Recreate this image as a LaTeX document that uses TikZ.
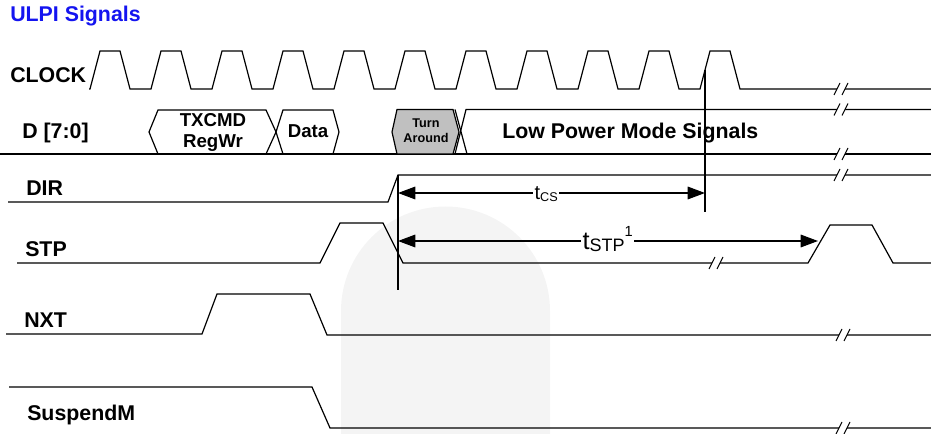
\documentclass[tikz,border=0pt]{standalone}
\usepackage{fontspec}
\setmainfont{Liberation Sans}
\usetikzlibrary{arrows.meta}
\definecolor{wmark}{RGB}{244,244,244}
\definecolor{tagray}{RGB}{192,192,192}
\definecolor{ttlblue}{RGB}{20,20,240}
\begin{document}
\begin{tikzpicture}[x=0.75pt,y=-0.75pt,
  wave/.style={line width=0.9pt, line join=miter},
  lbl/.style={font=\fontsize{16}{16}\selectfont\bfseries, inner sep=0pt, anchor=base west},
  boxtxt/.style={font=\fontsize{14}{14}\selectfont\bfseries, inner sep=0pt, anchor=base},
  smalltxt/.style={font=\fontsize{9.5}{9.5}\selectfont\bfseries, inner sep=0pt, anchor=base},
  dimarrow/.style={line width=0.9pt, {Triangle[length=13pt,width=9.5pt]}-{Triangle[length=13pt,width=9.5pt]}},
  brk/.pic={\fill[white] (-7,6)--(-1,-6)--(7,-6)--(1,6)--cycle;
            \draw[line width=0.8pt] (-7,6)--(-1,-6) (1,6)--(7,-6);}
]
\useasboundingbox (0,0) rectangle (931,434);
% faint background watermark
\fill[wmark] (341,434) -- (341,311) arc[start angle=180,end angle=360,radius=104.5] -- (550,434) -- cycle;

% title and labels
\node[lbl, text=ttlblue] (title) at (10,22) {ULPI Signals};
\node[lbl] (lclk) at (10,83) {CLOCK};
\node[lbl] (ld) at (22,139) {D [7:0]};
\node[lbl] (ldir) at (26,196) {DIR};
\node[lbl] (lstp) at (25,257) {STP};
\node[lbl] (lnxt) at (24,328) {NXT};
\node[lbl] (lsus) at (27,420) {SuspendM};

% CLOCK
\draw[wave] (89,89) \foreach \k in {0,...,10}{ -- ({90+61*\k},89) -- ({100+61*\k},51) -- ({120+61*\k},51) -- ({130+61*\k},89) } -- (931,89);
\pic at (841,89) {brk};

% D bus
\draw[wave] (0,154) -- (931,154);
\draw[wave] (149,132) -- (158,110) -- (266,110) -- (276,132) -- (266,154) -- (158,154) -- cycle;
\draw[wave] (276,132) -- (283,110) -- (333,110) -- (339,132) -- (333,154) -- (283,154) -- cycle;
\draw[wave, fill=tagray] (392,132) -- (397,109.5) -- (453,109.5) -- (459,132) -- (453,154) -- (397,154) -- cycle;
\draw[wave] (931,109.5) -- (466,109.5) -- (455,154);
\draw[wave] (455,109.5) -- (467,154);
\pic at (841,109.5) {brk};
\pic at (841,154) {brk};
\node[boxtxt] (txcmd) at (213,127) {TXCMD};
\node[boxtxt] (regwr) at (213,148) {RegWr};
\node[boxtxt] (data) at (308,138) {Data};
\node[smalltxt] (turn) at (426,128) {Turn};
\node[smalltxt] (around) at (426,143) {Around};
\node[lbl] (lpm) at (502,139) {Low Power Mode Signals};

% DIR
\draw[wave] (8,202) -- (388,202) -- (398,175) -- (931,175);
\pic at (841,175) {brk};

% STP
\draw[wave] (17,263) -- (320,263) -- (340,223) -- (383,223) -- (403,263) -- (808,263) -- (830,225) -- (872,225) -- (893,263) -- (931,263);
\pic at (716,263) {brk};

% NXT
\draw[wave] (6,334) -- (202,334) -- (217,294) -- (310,294) -- (327,335) -- (931,335);
\pic at (843,335) {brk};

% SuspendM
\draw[wave] (9,387) -- (312,387) -- (330,428) -- (931,428);
\pic at (843,428) {brk};

% reference verticals
\coordinate (v1top) at (398,175);
\coordinate (v1bot) at (398,290);
\coordinate (v2top) at (705,70);
\coordinate (v2bot) at (705,212);
\draw[line width=0.9pt] (v1top) -- (v1bot);
\draw[line width=0.9pt] (v2top) -- (v2bot);

% timing arrows
\coordinate (csl) at (398,193);
\coordinate (csr) at (705,193);
\draw[dimarrow] (csl) -- (csr);
\node[fill=white, inner sep=1pt, anchor=base west] (tcs) at (533,200)
  {\fontsize{15}{15}\selectfont t\raisebox{-1.5pt}{\fontsize{9.5}{9.5}\selectfont CS}};

\coordinate (stpl) at (398,241);
\coordinate (stpr) at (818,241);
\draw[dimarrow] (stpl) -- (stpr);
\node[fill=white, inner sep=1pt, anchor=base west] (tstp) at (581,250)
  {\fontsize{19}{19}\selectfont t\raisebox{-1.5pt}{\fontsize{13.5}{13.5}\selectfont STP}\raisebox{10pt}{\fontsize{11}{11}\selectfont 1}};
\end{tikzpicture}
\end{document}
